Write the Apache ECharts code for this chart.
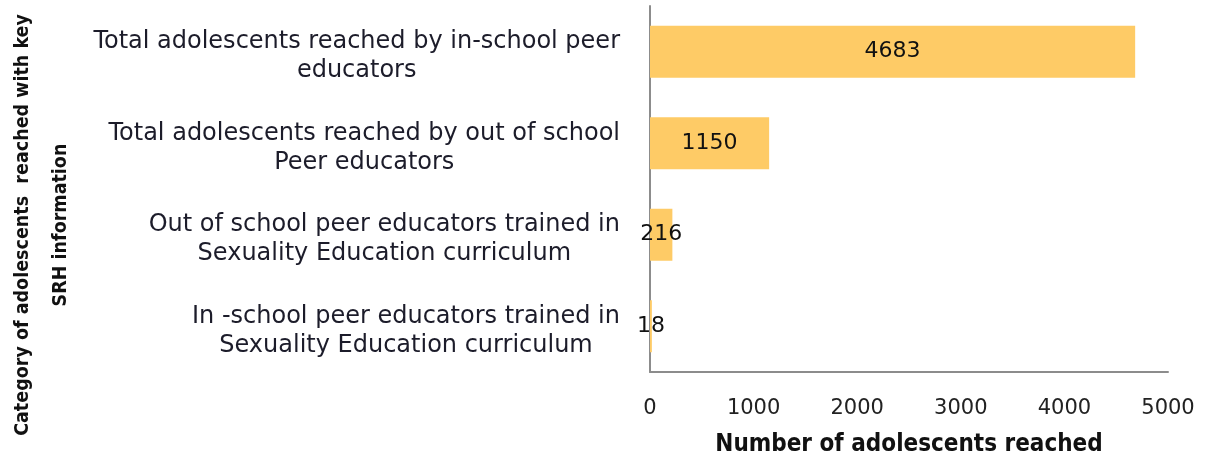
<!DOCTYPE html>
<html>
<head>
<meta charset="utf-8">
<script src="https://cdn.jsdelivr.net/npm/echarts@6/dist/echarts.min.js"></script>
<style>
  html, body { margin: 0; padding: 0; background: #fff; }
  #main { width: 1210px; height: 455px; }
</style>
</head>
<body>
<div id="main"></div>
<script>
var dom = document.getElementById('main')
var chart = echarts.init(dom)

// top to bottom, as in the picture
var categories = [
    'Total adolescents reached by in-school peer\neducators',
    'Total adolescents reached by out of school\nPeer educators',
    'Out of school peer educators trained in\nSexuality Education curriculum',
    'In -school peer educators trained in\nSexuality Education curriculum'
];
var reached = [4683, 1150, 216, 18];
var xTicks = [0, 1000, 2000, 3000, 4000, 5000];

var boldFont = "'DejaVu Sans Condensed', 'Liberation Sans', sans-serif";

var options = {
    animation: false,
    grid: {
        left: 650,
        right: 42,
        top: 6,
        bottom: 83,
        outerBoundsMode: 'none'
    },
    xAxis: {
        type: 'value',
        min: xTicks[0],
        max: xTicks[xTicks.length - 1],
        interval: 1000,
        splitLine: { show: false },
        axisTick: { show: false },
        axisLine: { show: true, lineStyle: { color: '#8c8c8c', width: 2 } },
        axisLabel: {
            margin: 26,
            fontFamily: 'DejaVu Sans',
            fontSize: 21,
            color: '#222',
            formatter: function (v) { return String(v) }
        },
        name: 'Number of adolescents reached',
        nameLocation: 'middle',
        nameGap: 61,
        nameTextStyle: {
            fontFamily: boldFont,
            fontWeight: 'bold',
            fontSize: 24,
            color: '#111'
        }
    },
    yAxis: {
        type: 'category',
        inverse: true,
        data: categories,
        axisTick: { show: false },
        axisLine: { show: true, lineStyle: { color: '#8c8c8c', width: 2 } },
        axisLabel: {
            margin: 30,
            align: 'right',
            padding: [10, 0, 0, 0],
            formatter: function (v) {
                return v.split('\n').map(function (s) { return '{a|' + s + '}' }).join('\n')
            },
            rich: {
                a: {
                    align: 'center',
                    fontFamily: 'DejaVu Sans',
                    fontSize: 24,
                    lineHeight: 29,
                    color: '#1c1c2a'
                }
            }
        }
    },
    series: [{
        type: 'bar',
        data: reached,
        barWidth: 52,
        itemStyle: { color: '#fecb66' },
        label: {
            show: true,
            position: 'inside',
            fontFamily: 'DejaVu Sans',
            fontSize: 22,
            color: '#111'
        }
    }],
    graphic: [{
        type: 'text',
        x: 4,
        y: 225,
        rotation: Math.PI / 2,
        style: {
            text: 'Category of adolescents  reached with key\nSRH information',
            fontFamily: boldFont,
            fontWeight: 'bold',
            fontSize: 19.5,
            lineHeight: 38,
            align: 'center',
            verticalAlign: 'top',
            fill: '#111'
        }
    }]
}

chart.setOption(options)
</script>
</body>
</html>
